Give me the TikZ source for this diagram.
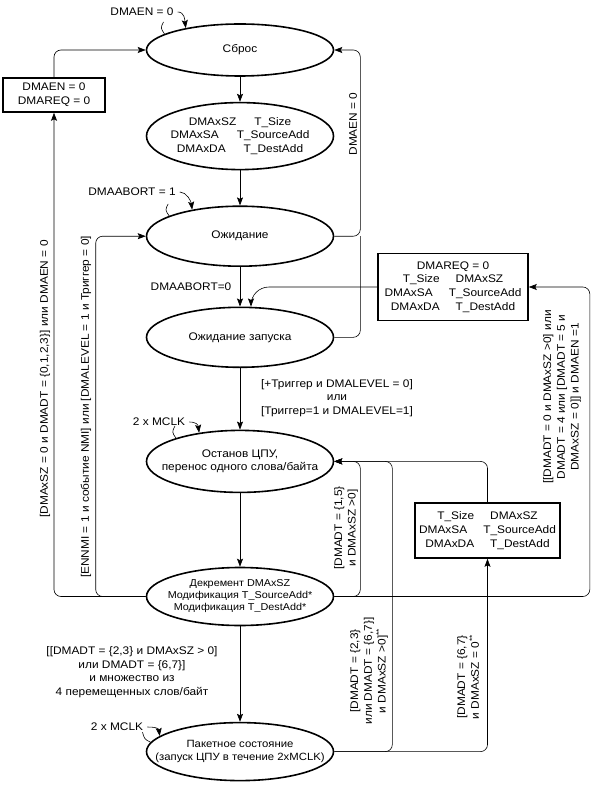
\documentclass[tikz,border=0pt]{standalone}
\usepackage{fontspec}
\setmainfont{Liberation Sans}[FakeStretch=1.08]
\usetikzlibrary{shapes.geometric,arrows.meta,positioning}

\begin{document}
\begin{tikzpicture}[
    x=1pt, y=-1pt,
    font=\fontsize{11}{13.7}\selectfont,
    state/.style={ellipse, draw=black, line width=1.6pt, minimum width=187pt, minimum height=60pt, inner xsep=-20pt, align=center},
    regs/.style={rectangle, draw=black, line width=1.6pt, align=center, inner sep=2pt},
    cond/.style={align=center, inner sep=1pt},
    vcond/.style={cond, rotate=90},
    arrow/.style={->, >={Stealth[length=8pt,width=6pt,inset=1.5pt]}, line width=0.6pt, rounded corners=7pt},
    wire/.style={line width=0.6pt, rounded corners=7pt}
]
    \useasboundingbox (0,0) rectangle (595,786);

    % states
    \node[state, minimum height=52pt] (reset) at (240,50) {Сброс};
    \node[state, minimum height=67pt, below=25pt of reset] (load) {DMAxSZ\hspace{18pt}T\_Size\\DMAxSA\hspace{18pt}T\_SourceAdd\\DMAxDA\hspace{18pt}T\_DestAdd};
    \node[state, below=35pt of load] (wait) {Ожидание};
    \node[state, below=39.5pt of wait] (waitstart) {Ожидание запуска};
    \node[state, minimum height=62pt, below=61.5pt of waitstart] (halt) {Останов ЦПУ,\\перенос одного слова/байта};
    \node[state, minimum height=58pt, below=73.5pt of halt, font=\fontsize{10}{12}\selectfont] (decr) {Декремент DMAxSZ\\Модификация T\_SourceAdd*\\Модификация T\_DestAdd*};
    \node[state, minimum height=58pt, below=95.5pt of decr, font=\fontsize{10.5}{13}\selectfont] (burst) {Пакетное состояние\\(запуск ЦПУ в течение 2xMCLK)};

    % register boxes
    \node[regs, minimum width=102pt, minimum height=34pt] (clr) at (54,95) {DMAEN = 0\\DMAREQ = 0};
    \node[regs, minimum width=150pt, minimum height=67pt] (reload) at (453,287) {DMAREQ = 0\\T\_Size\hspace{16pt}DMAxSZ\\DMAxSA\hspace{16pt}T\_SourceAdd\\DMAxDA\hspace{16pt}T\_DestAdd};
    \node[regs, minimum width=145pt, minimum height=55pt] (restore) at (487.5,530.5) {T\_Size\hspace{16pt}DMAxSZ\\DMAxSA\hspace{16pt}T\_SourceAdd\\DMAxDA\hspace{16pt}T\_DestAdd};

    % self transitions
    \node[cond] (enloop) at (142,12) {DMAEN = 0};
    \node[cond] (abortloop) at (132,192) {DMAABORT = 1};
    \node[cond] (clkhalt) at (159,422) {2 x MCLK};
    \node[cond] (clkburst) at (117,727) {2 x MCLK};
    \draw[arrow] ([xshift=3pt]enloop.east) .. controls +(7,0) and +(-1,-8) .. (reset.158);
    \draw[wire] (reset.168) .. controls +(-4,-6) .. +(-1,-12);
    \draw[arrow] ([xshift=3pt]abortloop.east) .. controls +(7,0) and +(-1,-8) .. (wait.151);
    \draw[wire] (wait.164) .. controls +(-4,-6) .. +(-1,-12);
    \draw[arrow] ([xshift=3pt]clkhalt.east) .. controls +(7,0) and +(-1,-8) .. (halt.145);
    \draw[wire] (halt.160) .. controls +(-4,-6) .. +(-1,-12);
    \draw[arrow] ([xshift=3pt]clkburst.east) .. controls +(7,0) and +(-1,-8) .. (burst.169);
    \draw[wire] (burst.174) .. controls +(-6,-3) .. +(-8,-10);

    % conditions
    \node[vcond] (enoff) at (353,124) {DMAEN = 0};
    \node[cond] (abort0) at (191,287) {DMAABORT=0};
    \node[cond] (trig) at (337,398) {[+Триггер и DMALEVEL = 0]\\или\\{}[Триггер=1 и DMALEVEL=1]};
    \node[vcond] (stopcond) at (45,379) {[DMAxSZ = 0 и DMADT = \{0,1,2,3\}] или DMAEN = 0};
    \node[vcond] (nmicond) at (86,407) {[ENNMI = 1 и событие NMI] или [DMALEVEL = 1 и Триггер = 0]};
    \node[vcond] (rptcond) at (562,397) {[[DMADT = 0 и DMAxSZ >0] или\\DMADT = 4 или [DMADT = 5 и\\DMAxSZ = 0]] и DMAEN =1};
    \node[vcond] (c15) at (346,528) {[DMADT = \{1,5\}\\и DMAxSZ >0]};
    \node[vcond] (c23) at (369,671) {[DMADT = \{2,3\}\\или DMADT = \{6,7\}]\\и DMAxSZ >0]\textsuperscript{**}};
    \node[vcond] (c67) at (468,677) {[DMADT = \{6,7\}\\и DMAxSZ = 0\textsuperscript{**}};
    \node[cond] (burstcond) at (132,672) {[[DMADT = \{2,3\} и DMAxSZ > 0]\\или DMADT = \{6,7\}]\\и множество из\\4 перемещенных слов/байт};

    % main chain
    \draw[arrow] (reset) -- (load);
    \draw[arrow] (load) -- (wait);
    \draw[arrow] (wait) -- (waitstart);
    \draw[arrow] (waitstart) -- (halt);
    \draw[arrow] (halt) -- (decr);
    \draw[arrow] (decr) -- (burst);

    % returns
    \draw[arrow] (clr.north) |- (reset.west);
    \draw[arrow] (decr.west) -| (clr.south);
    \draw[arrow] (decr.west) -| ([xshift=-50pt]wait.west) -- (wait.west);
    \draw[arrow] (wait.east) -| ([xshift=26pt]reset.east) -- (reset.east);
    \draw[wire] (waitstart.east) -| ([xshift=26pt]wait.east);
    \draw[arrow, rounded corners=18pt] (reload.west) -| ([xshift=11pt]waitstart.north);
    \draw[arrow] (decr.east) -| ([xshift=61pt]reload.east) -- (reload.east);
    \draw[arrow] (decr.east) -| ([xshift=26pt]halt.east) -- (halt.east);
    \draw[arrow] (burst.east) -| ([xshift=58pt]halt.east) -- (halt.east);
    \draw[arrow] (burst.east) -| (restore.south);
    \draw[arrow] (restore.north) |- (halt.east);
\end{tikzpicture}
\end{document}
